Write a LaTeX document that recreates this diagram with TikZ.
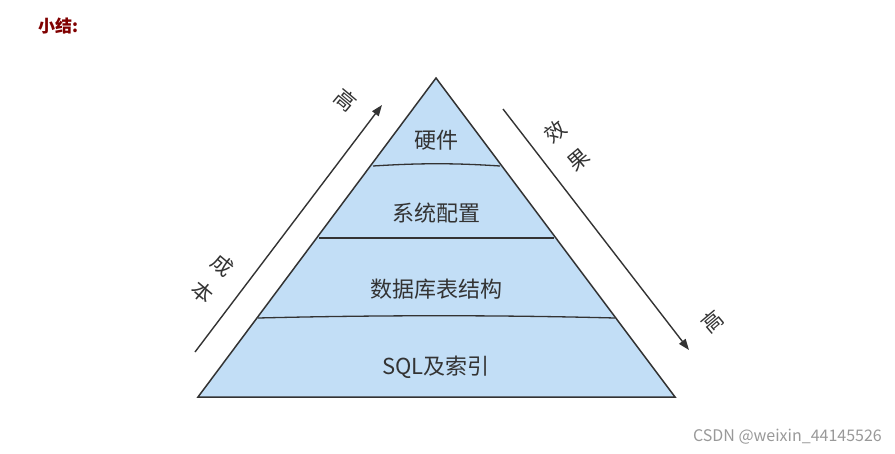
\documentclass[tikz,border=0pt]{standalone}
\usepackage{fontspec}
\setmainfont{Noto Sans CJK SC}
\usetikzlibrary{arrows.meta}
\definecolor{fillb}{HTML}{C2DEF6}
\definecolor{edge}{HTML}{333333}
\begin{document}
\begin{tikzpicture}[x=1pt,y=-1pt,
  band/.style={font=\fontsize{22}{22}\selectfont,text=edge},
  lab/.style={font=\fontsize{21}{21}\selectfont,text=edge,inner sep=0pt},
  arr/.style={edge,line width=1.4pt,-{Triangle[length=11pt,width=8pt]}}]
\useasboundingbox (0,0) rectangle (895,453);
\fill[white] (0,0) rectangle (895,453);
\coordinate (A) at (436,78);
\coordinate (BL) at (198,397);
\coordinate (BR) at (675,397);
\filldraw[fill=fillb,draw=edge,line width=1.5pt,line join=miter] (A) -- (BR) -- (BL) -- cycle;
\coordinate (l1a) at (373,166); \coordinate (l1b) at (500,166);
\coordinate (l2a) at (319,238); \coordinate (l2b) at (554,238);
\coordinate (l3a) at (258,318); \coordinate (l3b) at (615,318);
\draw[edge,line width=1.3pt] (l1a) .. controls (420,163) and (455,163) .. (l1b);
\draw[edge,line width=1.3pt] (l2a) -- (l2b);
\draw[edge,line width=1.3pt] (l3a) .. controls (380,315) and (500,315) .. (l3b);
\node[band] (n1) at (436,140) {硬件};
\node[band] (n2) at (436,213) {系统配置};
\node[band] (n3) at (436,289) {数据库表结构};
\node[band] (n4) at (436,367) {SQL及索引};
\coordinate (la0) at (195,352); \coordinate (la1) at (382,105);
\draw[arr] (la0) -- (la1);
\coordinate (ra0) at (503,109); \coordinate (ra1) at (689,350);
\draw[arr] (ra0) -- (ra1);
\node[lab,rotate=-40] (t1) at (223,265) {成};
\node[lab,rotate=-40] (t2) at (203,292) {本};
\node[lab,rotate=-40] (t3) at (346,100) {高};
\node[lab,rotate=40] (t4) at (555,132) {效};
\node[lab,rotate=40] (t5) at (579,160) {果};
\node[lab,rotate=40] (t6) at (712,322) {高};
\node[anchor=west,text=red!50!black,font=\bfseries\fontsize{17}{17}\selectfont,inner sep=0pt] (title) at (38,26) {小结:};
\node[anchor=east,text=gray!80,font=\fontsize{16}{16}\selectfont,inner sep=0pt] (wm) at (882,437) {CSDN @weixin\_44145526};
\end{tikzpicture}
\end{document}
